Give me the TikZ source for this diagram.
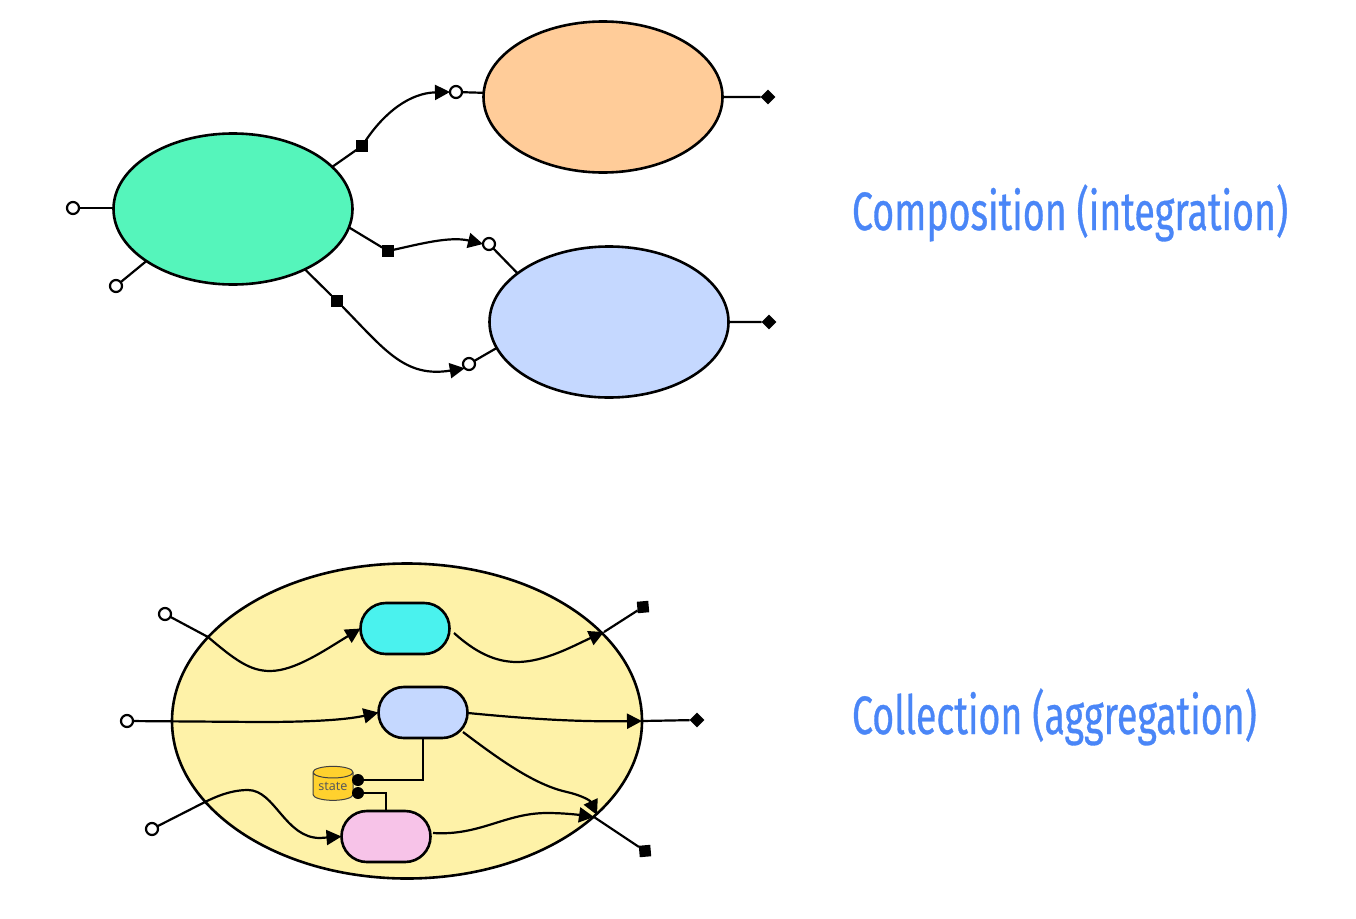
\documentclass[tikz,border=0pt]{standalone}
\usepackage{fontspec}
\setmainfont{Noto Sans}
\newfontfamily\labfont[FakeStretch=0.695,FakeBold=0.6]{Fira Sans}
\usetikzlibrary{arrows.meta,shapes.geometric}
\definecolor{cgreen}{HTML}{55F5BB}
\definecolor{corange}{HTML}{FFCC99}
\definecolor{cblue}{HTML}{C5D8FF}
\definecolor{cyellow}{HTML}{FEF2A8}
\definecolor{ccyan}{HTML}{4AF2EE}
\definecolor{cpink}{HTML}{F7C3E8}
\definecolor{cstate}{HTML}{FFD12E}
\definecolor{clabel}{HTML}{4A86F7}
\tikzset{
  x=1pt,y=-1pt,
  every node/.style={inner sep=0pt,outer sep=0pt},
  bubble/.style={ellipse,draw=black,line width=2.6pt,minimum width=239pt,minimum height=151pt},
  pill/.style={rectangle,rounded corners=25.4pt,draw=black,line width=2.6pt,minimum width=89pt,minimum height=51pt},
  inport/.style={circle,draw=black,fill=white,line width=2.2pt,minimum size=12pt},
  outsq/.style={rectangle,fill=black,minimum size=11.5pt},
  outdia/.style={rectangle,fill=black,rotate=45,minimum size=10.5pt},
  dot/.style={circle,fill=black,minimum size=12pt},
  wire/.style={line width=2.2pt,draw=black},
  flow/.style={wire,-{Triangle[length=15pt,width=15pt]}},
  biglabel/.style={anchor=base west,text=clabel,font=\labfont\fontsize{54}{60}\selectfont},
}
\begin{document}
\begin{tikzpicture}
\useasboundingbox (0,0) rectangle (1356,918);
% top group
\node[bubble,fill=cgreen] (green) at (233,209) {};
\node[bubble,fill=corange] (orange) at (603,97) {};
\node[bubble,fill=cblue] (blue) at (609,322) {};
\node[inport] (p1) at (73,208) {};
\node[inport] (p2) at (116,286) {};
\node[inport] (p3) at (456,92) {};
\node[inport] (p4) at (489,244) {};
\node[inport] (p5) at (469,364) {};
\node[outsq] (s1) at (362,146) {};
\node[outsq] (s2) at (388,251) {};
\node[outsq] (s3) at (337,301) {};
\node[outdia] (d1) at (768,97) {};
\node[outdia] (d2) at (769,322) {};
\draw[wire] (green.west) ++(0,-1) -- (p1);
\draw[wire] (green.211) -- (p2);
\draw[wire] (green.23) -- (s1);
\draw[wire] (green.-9) -- (s2);
\draw[wire] (green.-40) -- (s3);
\draw[wire] (orange.178) -- (p3);
\draw[wire] (blue.152) -- (p4);
\draw[wire] (blue.193) -- (p5);
\draw[wire] (orange.east) -- (d1);
\draw[wire] (blue.east) -- (d2);
\draw[flow] (s1) .. controls (385,112) and (410,93) .. (p3.west);
\draw[flow] (s2) .. controls (420,244) and (450,236) .. (p4.west);
\draw[flow] (s3) .. controls (385,350) and (405,378) .. (p5.south west);
% bottom group
\node[ellipse,draw=black,line width=2.6pt,fill=cyellow,minimum width=470pt,minimum height=315pt] (yellow) at (407,721) {};
\node[pill,fill=ccyan] (pc) at (405,628.5) {};
\node[pill,fill=cblue] (pb) at (423,712.5) {};
\node[pill,fill=cpink] (pp) at (386,836.5) {};
\node[cylinder,shape border rotate=90,aspect=0.4,draw=black!75,line width=1pt,fill=cstate,minimum width=40pt,minimum height=34pt,text=black!65,font=\fontsize{12.5}{14}\selectfont] (st) at (333,786.5) {state};
\node[dot] (dt1) at (358,780) {};
\node[dot] (dt2) at (358,793) {};
\node[inport] (q1) at (165,614) {};
\node[inport] (q2) at (127,721) {};
\node[inport] (q3) at (152,829) {};
\node[outsq,rotate=5] (sa) at (643,607) {};
\node[outsq,rotate=5] (sb) at (645,851) {};
\node[outdia] (da) at (697,720) {};
\coordinate (ja) at (604,632);
\coordinate (jb) at (594,817);
\coordinate (jc) at (597,815);
\coordinate (ca) at (454,633);
\coordinate (cb) at (468,713);
\coordinate (cc) at (463,732);
\coordinate (cd) at (433,833);
\draw[flow] (q1) -- (208,637) .. controls (235,660) and (250,671) .. (270,671) .. controls (295,671) and (325,650) .. (pc.west);
\draw[flow] (q2) -- (260,722) .. controls (320,722) and (350,719) .. (pb.west);
\draw[flow] (q3) -- (205,802) .. controls (225,792) and (238,790) .. (248,790) .. controls (275,790) and (285,838) .. (320,838) -- (pp.west);
\draw[flow] (ca) .. controls (475,652) and (495,662) .. (517,662) .. controls (545,662) and (575,645) .. (ja);
\draw[wire] (ja) -- (sa);
\draw[flow] (cb) .. controls (520,718) and (570,722) .. (yellow.east);
\draw[wire] (yellow.east) -- (da);
\draw[flow] (cc) .. controls (500,760) and (535,785) .. (567,792) .. controls (580,795) and (590,800) .. (jc);
\draw[flow] (cd) .. controls (480,836) and (505,813) .. (547,813) .. controls (565,813) and (580,815) .. (jb);
\draw[wire] (jb) -- (sb);
\draw[wire] (pb.south) -- (dt1.center -| pb.south) -- (dt1);
\draw[wire] (dt2) -- (dt2.center -| pp.north) -- (pp.north);
% labels
\node[biglabel] (l1) at (852,230) {Composition (integration)};
\node[biglabel] (l2) at (852,734) {Collection (aggregation)};
\end{tikzpicture}
\end{document}
